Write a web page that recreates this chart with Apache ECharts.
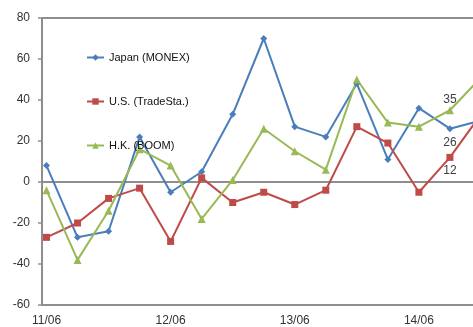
<!DOCTYPE html>
<html>
<head>
<meta charset="utf-8">
<script src="https://cdn.jsdelivr.net/npm/echarts@6/dist/echarts.min.js"></script>
<style>
  html, body { margin: 0; padding: 0; overflow: hidden; background: #fff; }
  #chart { width: 520px; height: 327px; }
</style>
</head>
<body>
<div id="chart"></div>
<script>
// Quarterly periods (yy/mm)
const periods = ['11/06', '11/09', '11/12', '12/03', '12/06', '12/09', '12/12', '13/03',
                 '13/06', '13/09', '13/12', '14/03', '14/06', '14/09', '14/12'];
// Labelled periods on the horizontal axis
const tickIndexes = [0, 4, 8, 12];
// Series values
const japan = [8, -27, -24, 22, -5, 5, 33, 70, 27, 22, 48, 11, 36, 26, 30];
const us    = [-27, -20, -8, -3, -29, 2, -10, -5, -11, -4, 27, 19, -5, 12, 33];
const hk    = [-4, -38, -14, 16, 8, -18, 1, 26, 15, 6, 50, 29, 27, 35, 51];
// Vertical axis range
const yMin = -60, yMax = 80, yStep = 20;
// Points that carry a value label
const labelFrom = 13;

const gray = '#8e8e8e';
const textColor = '#333333';
const font = 'Liberation Sans, Arial, sans-serif';

function makeSeries(name, values, color, symbol, size, labelPos, labelDist) {
  return {
    name: name,
    type: 'line',
    data: values.map((v, i) => ({
      value: [i, v],
      label: { show: i >= labelFrom }
    })),
    symbol: symbol,
    symbolSize: size,
    lineStyle: { color: color, width: 2 },
    itemStyle: { color: color, borderWidth: 0 },
    label: {
      position: labelPos,
      distance: labelDist,
      fontSize: 12,
      fontFamily: font,
      color: '#404040'
    },
    emphasis: { disabled: true },
    animation: false
  };
}

const chart = echarts.init(document.getElementById('chart'), null, { renderer: 'canvas' });
chart.setOption({
  animation: false,
  textStyle: { fontFamily: font },
  grid: {
    left: 42, top: 18, width: 470, height: 288,
    show: true, borderColor: gray, borderWidth: 2,
    containLabel: false
  },
  legend: {
    orient: 'vertical',
    left: 86, top: 52,
    padding: 0,
    itemWidth: 17, itemHeight: 8,
    itemGap: 33,
    textStyle: { fontSize: 11, color: '#111', fontFamily: font },
    data: ['Japan (MONEX)', 'U.S. (TradeSta.)', 'H.K. (BOOM)']
  },
  xAxis: [
    {
      type: 'value',
      min: -0.145, max: 15,
      axisLine: { show: true, onZero: false, lineStyle: { color: gray, width: 2 } },
      axisTick: { show: false },
      splitLine: { show: false },
      axisLabel: {
        customValues: tickIndexes,
        formatter: v => periods[v],
        margin: 10,
        fontSize: 12,
        color: textColor,
        fontFamily: font
      }
    },
    {
      type: 'value',
      min: -0.145, max: 15,
      position: 'top',
      axisLine: { show: true, onZero: true, lineStyle: { color: gray, width: 2 } },
      axisTick: { show: false },
      splitLine: { show: false },
      axisLabel: { show: false }
    }
  ],
  yAxis: {
    type: 'value',
    min: yMin, max: yMax, interval: yStep,
    axisLine: { show: true, onZero: false, lineStyle: { color: gray, width: 2 } },
    axisTick: { show: true, length: 4, lineStyle: { color: gray, width: 1.5 } },
    splitLine: { show: false },
    axisLabel: { margin: 12, fontSize: 12, color: textColor, fontFamily: font }
  },
  series: [
    makeSeries('Japan (MONEX)', japan, '#4a7ebb', 'diamond', 7, 'bottom', 4),
    makeSeries('U.S. (TradeSta.)', us, '#be4b48', 'rect', 7, 'bottom', 4),
    makeSeries('H.K. (BOOM)', hk, '#98b954', 'triangle', 8, 'top', 1)
  ]
});
</script>
</body>
</html>
